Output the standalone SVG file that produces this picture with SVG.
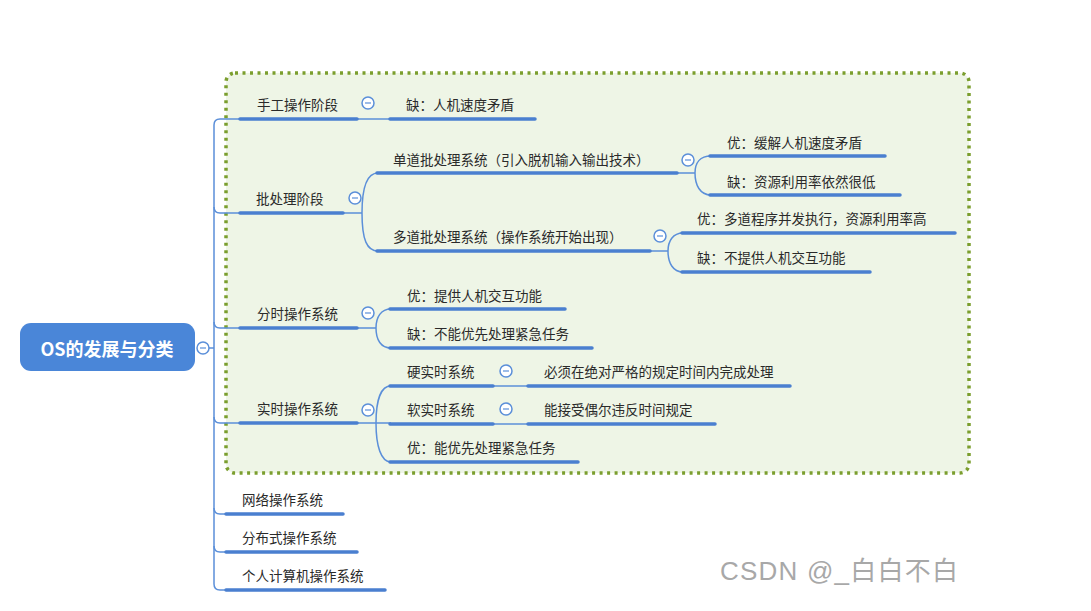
<svg xmlns="http://www.w3.org/2000/svg" width="1091" height="611" viewBox="0 0 1091 611">
<style>
.t{font-family:"Noto Sans CJK SC","Liberation Sans",sans-serif;font-size:13.5px;fill:#2a2a2a}
.u{stroke:#4a7fd0;stroke-width:3.5;fill:none;stroke-linecap:round}
.c{stroke:#5b8fd9;stroke-width:1.5;fill:none}
.k circle{fill:#fff;stroke:#5b8fd9;stroke-width:1.5}
.k line{stroke:#5b8fd9;stroke-width:1.2}
</style>
<rect width="1091" height="611" fill="#fff"/>
<rect id="boundary" x="226" y="73" width="743" height="400" rx="9" fill="#eef5e6" stroke="#7b9e2e" stroke-width="3.5" stroke-dasharray="3 4.5"/>
<g id="connectors">
<path class="c" d="M209 348 H214"/>
<path class="c" d="M240 119 H220 Q214 119 214 125 V584 Q214 590 220 590 H226"/>
<path class="c" d="M214 207 Q214 213 220 213 H240"/>
<path class="c" d="M214 322 Q214 328 220 328 H240"/>
<path class="c" d="M214 417 Q214 423 220 423 H240"/>
<path class="c" d="M214 508 Q214 514 220 514 H226"/>
<path class="c" d="M214 546 Q214 552 220 552 H226"/>
<path class="c" d="M357 119 H390"/>
<path class="c" d="M343 213 H362 C362 186 367 173 378 173 M362 213 C362 240 367 251 378 251"/>
<path class="c" d="M677 173 H695 C695 163 700 156 711 156 M695 173 C695 185 700 195 711 195"/>
<path class="c" d="M650 251 H668 C668 241 673 233 683 233 M668 251 C668 263 673 272 683 272"/>
<path class="c" d="M357 328 H376 C376 317 381 309 391 309 M376 328 C376 340 381 348 391 348"/>
<path class="c" d="M357 423 H391 M376 423 C376 400 381 386 391 386 M376 423 C376 446 381 462 391 462"/>
<path class="c" d="M493 386 H528"/>
<path class="c" d="M493 424 H528"/>
</g>
<g id="root">
<rect x="20" y="323" width="175" height="48" rx="11" fill="#4a86d8"/>
<text x="107" y="356" text-anchor="middle" style="font-family:'Noto Sans CJK SC','Liberation Sans',sans-serif;font-size:18px;font-weight:bold;fill:#fff">OS的发展与分类</text>
<g class="k"><circle cx="203" cy="348" r="6"/><line x1="200" y1="348" x2="206" y2="348"/></g>
</g>
<g id="n-manual"><path class="u" d="M240 119 H357"/><text class="t" x="257" y="110">手工操作阶段</text><g class="k"><circle cx="368" cy="103" r="6"/><line x1="365" y1="103" x2="371" y2="103"/></g></g>
<g id="n-manual-c"><path class="u" d="M390 119 H535"/><text class="t" x="406" y="110">缺：人机速度矛盾</text></g>
<g id="n-batch"><path class="u" d="M240 213 H343"/><text class="t" x="256" y="204">批处理阶段</text><g class="k"><circle cx="355" cy="198" r="6"/><line x1="352" y1="198" x2="358" y2="198"/></g></g>
<g id="n-single"><path class="u" d="M377 173 H677"/><text class="t" x="393" y="165">单道批处理系统（引入脱机输入输出技术）</text><g class="k"><circle cx="688" cy="160" r="6"/><line x1="685" y1="160" x2="691" y2="160"/></g></g>
<g id="n-single-p"><path class="u" d="M710 156 H885"/><text class="t" x="727" y="148">优：缓解人机速度矛盾</text></g>
<g id="n-single-c"><path class="u" d="M710 195 H900"/><text class="t" x="727" y="187">缺：资源利用率依然很低</text></g>
<g id="n-multi"><path class="u" d="M377 251 H650"/><text class="t" x="393" y="242">多道批处理系统（操作系统开始出现）</text><g class="k"><circle cx="660" cy="236" r="6"/><line x1="657" y1="236" x2="663" y2="236"/></g></g>
<g id="n-multi-p"><path class="u" d="M682 233 H955"/><text class="t" x="697" y="224">优：多道程序并发执行，资源利用率高</text></g>
<g id="n-multi-c"><path class="u" d="M682 272 H870"/><text class="t" x="697" y="263">缺：不提供人机交互功能</text></g>
<g id="n-ts"><path class="u" d="M240 328 H357"/><text class="t" x="257" y="319">分时操作系统</text><g class="k"><circle cx="368" cy="313" r="6"/><line x1="365" y1="313" x2="371" y2="313"/></g></g>
<g id="n-ts-p"><path class="u" d="M390 309 H565"/><text class="t" x="407" y="301">优：提供人机交互功能</text></g>
<g id="n-ts-c"><path class="u" d="M390 348 H592"/><text class="t" x="407" y="339">缺：不能优先处理紧急任务</text></g>
<g id="n-rt"><path class="u" d="M240 423 H357"/><text class="t" x="257" y="414">实时操作系统</text><g class="k"><circle cx="368" cy="410" r="6"/><line x1="365" y1="410" x2="371" y2="410"/></g></g>
<g id="n-hard"><path class="u" d="M390 386 H493"/><text class="t" x="407" y="377">硬实时系统</text><g class="k"><circle cx="506" cy="371" r="6"/><line x1="503" y1="371" x2="509" y2="371"/></g></g>
<g id="n-hard-c"><path class="u" d="M528 386 H790"/><text class="t" x="544" y="377">必须在绝对严格的规定时间内完成处理</text></g>
<g id="n-soft"><path class="u" d="M390 424 H493"/><text class="t" x="407" y="415">软实时系统</text><g class="k"><circle cx="506" cy="409" r="6"/><line x1="503" y1="409" x2="509" y2="409"/></g></g>
<g id="n-soft-c"><path class="u" d="M528 424 H715"/><text class="t" x="544" y="415">能接受偶尔违反时间规定</text></g>
<g id="n-rt-p"><path class="u" d="M390 462 H578"/><text class="t" x="407" y="453">优：能优先处理紧急任务</text></g>
<g id="n-net"><path class="u" d="M226 514 H343"/><text class="t" x="242" y="505">网络操作系统</text></g>
<g id="n-dist"><path class="u" d="M226 552 H357"/><text class="t" x="242" y="543">分布式操作系统</text></g>
<g id="n-pc"><path class="u" d="M226 590 H385"/><text class="t" x="242" y="581">个人计算机操作系统</text></g>
<text x="720" y="580" textLength="238" style="font-family:'Liberation Sans','Noto Sans CJK SC',sans-serif;font-size:26px;fill:#a8a8a8">CSDN @_白白不白</text>
</svg>
